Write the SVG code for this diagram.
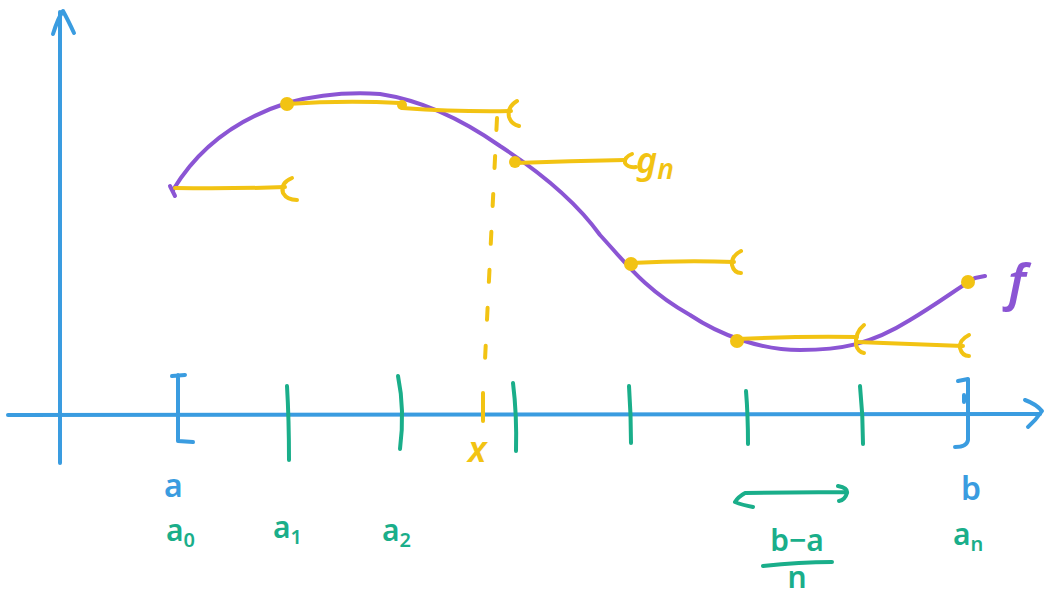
<svg xmlns="http://www.w3.org/2000/svg" width="1047" height="596" viewBox="0 0 1047 596">
<style>
.ax{fill:none;stroke:#3a9ce0;stroke-width:4;stroke-linecap:round;stroke-linejoin:round}
.tk{fill:none;stroke:#1aae8a;stroke-width:4;stroke-linecap:round;stroke-linejoin:round}
.fn{fill:none;stroke:#8b55d4;stroke-width:4;stroke-linecap:round;stroke-linejoin:round}
.yl{fill:none;stroke:#f2c313;stroke-width:4;stroke-linecap:round;stroke-linejoin:round}
.dot{fill:#f2c313}
.t{font-family:"Noto Sans","DejaVu Sans",sans-serif;font-weight:600}
.tb{fill:#3a9ce0;font-size:32px}
.tg{fill:#1aae8a;font-size:30px}
.ty{fill:#f2c313;font-size:36px}
.tp{fill:#8b55d4}
</style>
<rect width="1047" height="596" fill="#ffffff"/>
<g id="axes">
<path class="ax" d="M60,463 L60,12"/>
<path class="ax" d="M53,34 Q58,18 63,11 Q68,20 74,33"/>
<path class="ax" d="M8,415 L1040,414"/>
<path class="ax" d="M1025,400 Q1036,404 1042,411 Q1036,420 1028,427"/>
<path class="ax" d="M172,376 L185,375 M178,375 L178,441 L193,442"/>
<path class="ax" d="M958,381 L968,379 L968,440 Q967,447 955,447 M964,395 L964,402"/>
</g>
<g id="ticks">
<path class="tk" d="M287,386 Q289,420 289,460"/>
<path class="tk" d="M398,376 Q405,410 400,449"/>
<path class="tk" d="M513,383 Q517,415 516,451"/>
<path class="tk" d="M629,386 Q631,415 631,443"/>
<path class="tk" d="M746,391 Q748,415 748,444"/>
<path class="tk" d="M860,386 Q863,415 863,444"/>
</g>
<g id="x-marker">
<path class="yl" d="M483,393 L483,421"/>
<path class="yl" d="M497,118 L485,360" stroke-dasharray="12,26"/>
</g>
<g id="f-curve">
<path class="fn" d="M173,190 C200,145 240,118 287,103 C320,94 350,92 380,94 C420,100 460,118 500,146 C540,172 575,200 600,235 C625,262 645,290 690,315 C720,335 760,350 800,350 C840,350 870,345 910,320 C940,302 955,290 975,278 L985,276"/>
<path class="fn" d="M170,186 L175,196"/>
<text class="t tp" x="1008" y="300" font-size="50" font-style="italic" font-family="Liberation Serif,serif">f</text>
</g>
<g id="g-steps">
<path class="yl" d="M175,188 Q230,189 285,187"/>
<path class="yl" d="M292,178 Q280,183 283,193 Q287,200 297,200"/>
<circle class="dot" cx="287" cy="104" r="7"/>
<path class="yl" d="M287,104 Q345,100 400,103"/>
<circle class="dot" cx="402" cy="105" r="5"/>
<path class="yl" d="M402,108 Q460,112 511,111"/>
<path class="yl" d="M517,101 Q507,107 509,117 Q511,124 519,126"/>
<circle class="dot" cx="515" cy="162" r="6"/>
<path class="yl" d="M515,163 Q570,161 625,160"/>
<path class="yl" d="M632,154 Q624,157 625,163 Q628,168 636,167"/>
<circle class="dot" cx="631" cy="264" r="7"/>
<path class="yl" d="M631,263 Q685,260 734,262"/>
<path class="yl" d="M741,251 Q731,256 732,265 Q734,273 741,273"/>
<circle class="dot" cx="737" cy="341" r="7"/>
<path class="yl" d="M737,339 Q800,336 857,337"/>
<path class="yl" d="M864,325 Q855,332 856,345 Q858,352 864,353"/>
<path class="yl" d="M857,342 Q910,344 963,346"/>
<path class="yl" d="M969,335 Q959,340 960,348 Q962,356 969,356"/>
<circle class="dot" cx="968" cy="282" r="7"/>
<text class="t ty" x="636" y="173" font-style="italic" font-family="Liberation Serif,serif" font-size="52">g<tspan font-size="28" dy="6">n</tspan></text>
<text class="t ty" x="468" y="462" font-style="italic" font-family="Liberation Serif,serif">x</text>
</g>
<g id="labels">
<text class="t tb" x="164" y="497">a</text>
<text class="t tb" x="961" y="500">b</text>
<text class="t tg" x="166" y="541">a<tspan font-size="20" dy="6">0</tspan></text>
<text class="t tg" x="273" y="538">a<tspan font-size="20" dy="6">1</tspan></text>
<text class="t tg" x="382" y="541">a<tspan font-size="20" dy="6">2</tspan></text>
<text class="t tg" x="953" y="545">a<tspan font-size="20" dy="6">n</tspan></text>
<path class="tk" d="M745,493 L847,492 M745,493 Q738,497 735,502 Q742,505 753,507 M838,486 Q848,488 847,493 Q845,500 839,501"/>
<text class="t tg" x="797" y="551" text-anchor="middle" font-size="28">b−a</text>
<path class="tk" d="M763,566 Q800,562 832,562"/>
<text class="t tg" x="797" y="588" text-anchor="middle" font-size="24">n</text>
</g>
</svg>
